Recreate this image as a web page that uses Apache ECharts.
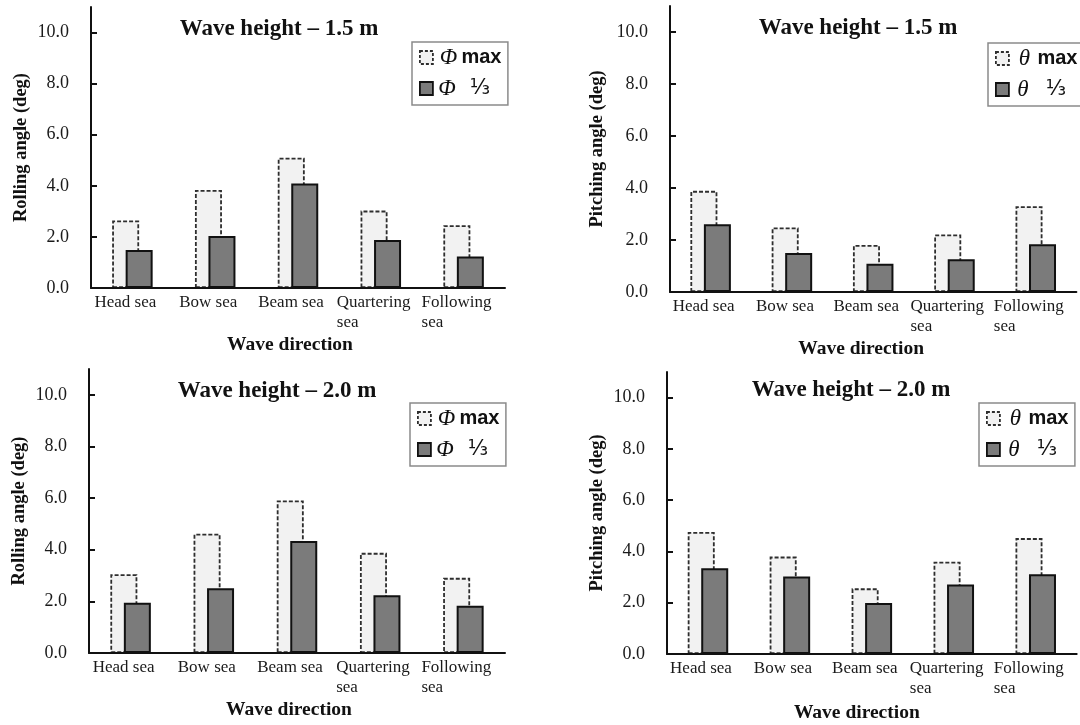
<!DOCTYPE html>
<html>
<head>
<meta charset="utf-8">
<style>
html, body { margin: 0; padding: 0; background: #fff; }
#chart { width: 1080px; height: 725px; }
</style>
<script src="https://cdn.jsdelivr.net/npm/echarts@6/dist/echarts.min.js"></script>
</head>
<body>
<div id="chart"></div>
<script>
// data
var categories = ['Head sea', 'Bow sea', 'Beam sea', 'Quartering\nsea', 'Following\nsea'];
var yTicks = [0, 2, 4, 6, 8, 10];

var roll15Max = [2.64, 3.84, 5.10, 3.03, 2.46];
var roll15Sig = [1.49, 2.04, 4.09, 1.88, 1.23];
var pitch15Max = [3.89, 2.48, 1.81, 2.21, 3.30];
var pitch15Sig = [2.61, 1.50, 1.09, 1.26, 1.84];
var roll20Max = [3.05, 4.62, 5.91, 3.88, 2.91];
var roll20Sig = [1.95, 2.51, 4.34, 2.24, 1.83];
var pitch20Max = [4.76, 3.80, 2.56, 3.60, 4.52];
var pitch20Sig = [3.34, 3.02, 1.99, 2.71, 3.11];

var serif = '"Liberation Serif", "Times New Roman", serif';
var sans = '"Liberation Sans", Arial, sans-serif';

var panels = [
    { grid: { left: 91, top: 7, width: 414, height: 281 }, title: 'Wave height \u2013 1.5 m', tx: 279, ty: 29,
      yName: 'Rolling angle (deg)', sym: '\u03A6', maxData: roll15Max, sigData: roll15Sig,
      legendPos: { left: 412, top: 42 }, yGap: 60, xGap: 47, xShift: 8 },
    { grid: { left: 670, top: 6, width: 414, height: 286 }, title: 'Wave height \u2013 1.5 m', tx: 858, ty: 28,
      yName: 'Pitching angle (deg)', sym: '\u03B8', maxData: pitch15Max, sigData: pitch15Sig,
      legendPos: { left: 988, top: 43 }, yGap: 63, xGap: 47, xShift: 12 },
    { grid: { left: 89, top: 369, width: 416, height: 284 }, title: 'Wave height \u2013 2.0 m', tx: 277, ty: 391,
      yName: 'Rolling angle (deg)', sym: '\u03A6', maxData: roll20Max, sigData: roll20Sig,
      legendPos: { left: 410, top: 403 }, yGap: 60, xGap: 47, xShift: 8 },
    { grid: { left: 667, top: 372, width: 417, height: 282 }, title: 'Wave height \u2013 2.0 m', tx: 851, ty: 390,
      yName: 'Pitching angle (deg)', sym: '\u03B8', maxData: pitch20Max, sigData: pitch20Sig,
      legendPos: { left: 979, top: 403 }, yGap: 60, xGap: 49, xShift: 15 }
];

// left-align the two-line category labels
var ctx = document.createElement('canvas').getContext('2d');
ctx.font = '17px ' + serif;
var catRich = {};
categories.forEach(function(c, i) {
    var lines = c.split('\n');
    if (lines.length > 1) {
        catRich['c' + i] = {
            width: Math.ceil(ctx.measureText(lines[0]).width), align: 'left',
            fontSize: 17, fontFamily: serif, color: '#1a1a1a', lineHeight: 20
        };
    }
});
function catFormatter(value, index) {
    var lines = value.split('\n');
    if (lines.length === 1) return value;
    return lines.map(function(l) { return '{c' + index + '|' + l + '}'; }).join('\n');
}

function legendFormatter(name) {
    var parts = name.split(' ');
    if (parts[1] === 'max') return '{g|' + parts[0] + '}{m|max}';
    return '{h|' + parts[0] + '}{f|' + parts[1] + '}';
}

var maxStyle = { color: '#f2f2f2', borderColor: '#2e2e2e', borderWidth: 1.8, borderType: [4, 2] };
var sigStyle = { color: '#7b7b7b', borderColor: '#111', borderWidth: 2 };

var grids = [], xAxes = [], yAxes = [], series = [], legends = [], graphics = [];

panels.forEach(function(p, i) {
    grids.push(p.grid);
    xAxes.push({
        type: 'category', gridIndex: i, data: categories, z: 3,
        axisLine: { lineStyle: { color: '#111', width: 2 } },
        axisTick: { show: false },
        axisLabel: {
            interval: 0, margin: 5, fontSize: 17, fontFamily: serif, color: '#1a1a1a',
            lineHeight: 20, padding: [0, 14, 0, 0], formatter: catFormatter, rich: catRich
        },
        name: 'Wave direction', nameLocation: 'middle', nameGap: p.xGap,
        nameTextStyle: { fontSize: 19.5, fontWeight: 'bold', fontFamily: serif, color: '#111',
                         padding: [0, p.xShift * 2, 0, 0] }
    });
    yAxes.push({
        type: 'value', gridIndex: i, min: 0, max: 11, interval: 2, z: 3,
        splitLine: { show: false },
        axisLine: { show: true, lineStyle: { color: '#111', width: 2 } },
        axisTick: { show: true, inside: true, length: 6, customValues: yTicks,
                    lineStyle: { color: '#111', width: 2 } },
        axisLabel: { customValues: yTicks, margin: 22, fontSize: 18, fontFamily: serif, color: '#1a1a1a',
                     formatter: function(v) { return v.toFixed(1); } },
        name: p.yName, nameLocation: 'middle', nameGap: p.yGap,
        nameTextStyle: { fontSize: 18.5, fontWeight: 'bold', fontFamily: serif, color: '#111' }
    });
    series.push({
        type: 'bar', name: p.sym + ' max', xAxisIndex: i, yAxisIndex: i, data: p.maxData,
        barWidth: 27, barGap: '-50%', itemStyle: maxStyle, silent: true
    });
    series.push({
        type: 'bar', name: p.sym + ' \u2153', xAxisIndex: i, yAxisIndex: i, data: p.sigData,
        barWidth: 27, barGap: '-50%', itemStyle: sigStyle, silent: true
    });
    legends.push({
        orient: 'vertical', left: p.legendPos.left, top: p.legendPos.top,
        itemWidth: 13, itemHeight: 13, itemGap: 8, padding: [4, 4, 5, 7],
        borderColor: '#8a8a8a', borderWidth: 1.5, selectedMode: false,
        formatter: legendFormatter,
        textStyle: {
            rich: {
                g: { width: 21, align: 'center', fontSize: 23, fontStyle: 'italic', fontFamily: serif, color: '#111', lineHeight: 22 },
                h: { width: 18, align: 'center', fontSize: 23, fontStyle: 'italic', fontFamily: serif, color: '#111', lineHeight: 22 },
                m: { width: 45, align: 'left', fontSize: 20, fontWeight: 'bold', fontFamily: sans, color: '#111', lineHeight: 22 },
                f: { width: 48, align: 'left', fontSize: 21, fontFamily: '"DejaVu Sans", sans-serif', color: '#111', lineHeight: 22 }
            }
        },
        data: [
            { name: p.sym + ' max', icon: 'rect', itemStyle: { color: '#f2f2f2', borderColor: '#2e2e2e', borderWidth: 1.8, borderType: [3, 2] } },
            { name: p.sym + ' \u2153', icon: 'rect', itemStyle: { color: '#7b7b7b', borderColor: '#111', borderWidth: 1.8 } }
        ]
    });
    graphics.push({
        type: 'text', x: p.tx, y: p.ty,
        style: { text: p.title, font: 'bold 23px ' + serif, fill: '#111',
                 align: 'center', verticalAlign: 'middle', textAlign: 'center', textVerticalAlign: 'middle' }
    });
});

var chart = echarts.init(document.getElementById('chart'));
chart.setOption({
    backgroundColor: '#fff',
    animation: false,
    grid: grids,
    xAxis: xAxes,
    yAxis: yAxes,
    legend: legends,
    graphic: graphics,
    series: series
});
</script>
</body>
</html>
